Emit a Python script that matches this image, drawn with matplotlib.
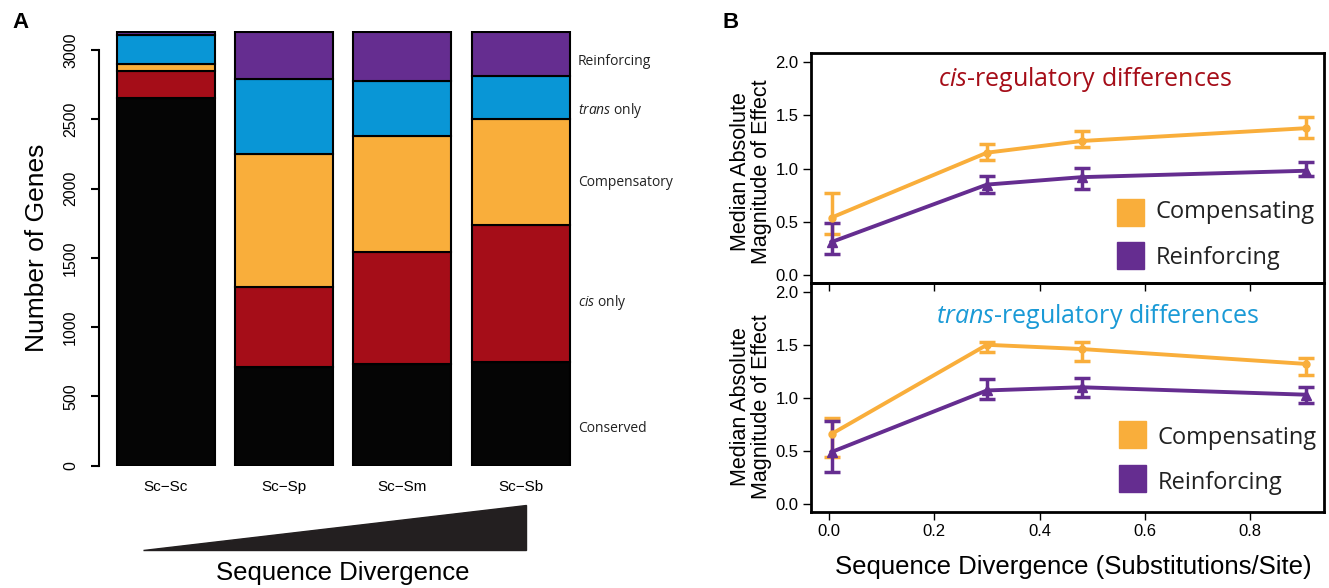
import numpy as np
import matplotlib
matplotlib.use("Agg")
from matplotlib import pyplot as plt
from matplotlib.patches import Polygon, Rectangle

plt.rcParams['font.family'] = ['Liberation Sans', 'DejaVu Sans']
plt.rcParams['mathtext.fontset'] = 'custom'
plt.rcParams['mathtext.rm'] = 'Open Sans'
plt.rcParams['mathtext.it'] = 'Open Sans:italic'

# panel A: gene counts per class
pairs = ['Sc\u2212Sc', 'Sc\u2212Sp', 'Sc\u2212Sm', 'Sc\u2212Sb']
conserved = [2656, 712, 732, 751]
cis_only = [192, 575, 808, 986]
compensatory = [49, 962, 839, 767]
trans_only = [211, 544, 397, 308]
reinforcing = [22, 337, 354, 318]
class_labels = ['Conserved', r'$\mathit{cis}$ only', 'Compensatory',
                r'$\mathit{trans}$ only', 'Reinforcing']
class_label_y = [272, 1181, 2047, 2560, 2920]

# panel B: median magnitude of effect
divergence = [0.005, 0.30, 0.48, 0.905]
cis_comp = [0.54, 1.15, 1.26, 1.38]
cis_comp_lo = [0.39, 1.08, 1.20, 1.29]
cis_comp_hi = [0.77, 1.23, 1.35, 1.49]
cis_reinf = [0.31, 0.85, 0.92, 0.98]
cis_reinf_lo = [0.20, 0.77, 0.81, 0.93]
cis_reinf_hi = [0.49, 0.93, 1.01, 1.06]
trans_comp = [0.66, 1.50, 1.46, 1.32]
trans_comp_lo = [0.44, 1.43, 1.35, 1.22]
trans_comp_hi = [0.81, 1.53, 1.53, 1.38]
trans_reinf = [0.49, 1.07, 1.10, 1.03]
trans_reinf_lo = [0.30, 0.99, 1.01, 0.95]
trans_reinf_hi = [0.78, 1.18, 1.19, 1.10]

BLACK = '#050505'
RED = '#A50D18'
ORANGE = '#F9AE3B'
BLUE = '#0996D6'
PURPLE = '#652D90'
TITLE_BLUE = '#1A9AD6'

W, H = 1329, 588


def box(l, t, r, b):
    return [l / W, 1 - b / H, (r - l) / W, (b - t) / H]


fig = plt.figure(figsize=(W / 100, H / 100), dpi=100)

# ---------------- panel A ----------------
ax = fig.add_axes(box(99, 30.6, 575, 465.7))
x = np.arange(len(pairs))
bottom = np.zeros(len(pairs))
for vals, col in zip([conserved, cis_only, compensatory, trans_only, reinforcing],
                     [BLACK, RED, ORANGE, BLUE, PURPLE]):
    ax.bar(x, vals, 0.83, bottom=bottom, color=col, edgecolor='black', linewidth=1.5)
    bottom = bottom + np.array(vals)

ax.set_xlim(-0.567, 3.460)
ax.set_ylim(0, 3140)
for s in ['top', 'right', 'bottom']:
    ax.spines[s].set_visible(False)
ax.spines['left'].set_bounds(0, 3000)
ax.spines['left'].set_linewidth(1.5)
ax.set_yticks(np.arange(0, 3001, 500))
ax.tick_params(axis='y', length=6, width=1.5, labelsize=11.5, pad=9, labelrotation=90)
for lab in ax.get_yticklabels():
    lab.set_va('center')
ax.set_xticks(x)
ax.set_xticklabels(pairs, fontsize=11)
ax.tick_params(axis='x', length=0, pad=10)
ax.set_ylabel('Number of Genes', fontsize=19, labelpad=10)

for lab, yv in zip(class_labels, class_label_y):
    ax.text(3.486, yv, lab, fontsize=10, family='Open Sans', color='#222222',
            va='center', ha='left', clip_on=False)

tri = Polygon([[143 / W, 1 - 550 / H], [526 / W, 1 - 550 / H], [526 / W, 1 - 505 / H]],
              closed=True, transform=fig.transFigure, color='#231F20')
fig.patches.append(tri)
fig.text(343 / W, 1 - 573 / H, 'Sequence Divergence', fontsize=18.5, ha='center', va='center')

fig.text(12 / W, 1 - 22 / H, 'A', fontsize=16, fontweight='bold', va='center')
fig.text(722 / W, 1 - 22 / H, 'B', fontsize=16, fontweight='bold', va='center')

# ---------------- panel B ----------------
ax_top = fig.add_axes(box(811, 53, 1324, 283))
ax_bot = fig.add_axes(box(811, 283, 1324, 512))
ax_bot.patch.set_alpha(0)

panels = [
    (ax_top, cis_comp, cis_comp_lo, cis_comp_hi, cis_reinf, cis_reinf_lo, cis_reinf_hi, (-0.075, 2.087)),
    (ax_bot, trans_comp, trans_comp_lo, trans_comp_hi, trans_reinf, trans_reinf_lo, trans_reinf_hi, (-0.075, 2.082)),
]
for a, cy, clo, chi, ry, rlo, rhi, yl in panels:
    cy, clo, chi = np.array(cy), np.array(clo), np.array(chi)
    ry, rlo, rhi = np.array(ry), np.array(rlo), np.array(rhi)
    a.errorbar(divergence, cy, yerr=[cy - clo, chi - cy], color=ORANGE, lw=2.8,
               marker='o', ms=5, capsize=6, capthick=2.5, elinewidth=2.5)
    a.errorbar(divergence, ry, yerr=[ry - rlo, rhi - ry], color=PURPLE, lw=2.8,
               marker='^', ms=7, capsize=6, capthick=2.5, elinewidth=2.5)
    a.set_xlim(-0.034, 0.94)
    a.set_ylim(*yl)
    a.set_yticks(np.arange(0, 2.01, 0.5))
    a.set_yticklabels(['%.1f' % v for v in np.arange(0, 2.01, 0.5)])
    a.set_xticks(np.arange(0, 0.81, 0.2))
    a.tick_params(length=6, width=1, labelsize=12, pad=3)
    for s in a.spines.values():
        s.set_linewidth(2)

ax_top.tick_params(axis='x', labelbottom=False)
ax_bot.set_xticklabels(['%.1f' % v for v in np.arange(0, 0.81, 0.2)])

ax_top.text(0.534, 0.883, r'$\mathit{cis}$-regulatory differences', transform=ax_top.transAxes,
            color=RED, fontsize=18, family='Open Sans', ha='center', va='center')
ax_bot.text(0.559, 0.853, r'$\mathit{trans}$-regulatory differences', transform=ax_bot.transAxes,
            color=TITLE_BLUE, fontsize=18, family='Open Sans', ha='center', va='center')

legend_pos = [
    (ax_top, 0.5965, 0.2478, 0.0609, 0.6725, 0.309, 0.109),
    (ax_bot, 0.6004, 0.2795, 0.0873, 0.676, 0.323, 0.126),
]
for a, sx, sy1, sy2, tx, ty1, ty2 in legend_pos:
    for sy, ty, col, lab in [(sy1, ty1, ORANGE, 'Compensating'), (sy2, ty2, PURPLE, 'Reinforcing')]:
        a.add_patch(Rectangle((sx, sy), 0.0526, 0.117, transform=a.transAxes,
                              color=col, clip_on=False))
        a.text(tx, ty, lab, transform=a.transAxes, fontsize=17, family='Open Sans',
               color='#222222', ha='left', va='center')

for yc in [172, 407]:
    fig.text(751 / W, 1 - yc / H, 'Median Absolute\nMagnitude of Effect', rotation=90,
             fontsize=15.5, ha='center', va='center', multialignment='center', linespacing=1.0)

fig.text(1073 / W, 1 - 567 / H, 'Sequence Divergence (Substitutions/Site)', fontsize=18.5,
         ha='center', va='center')

fig.savefig('out.png', dpi=100)
